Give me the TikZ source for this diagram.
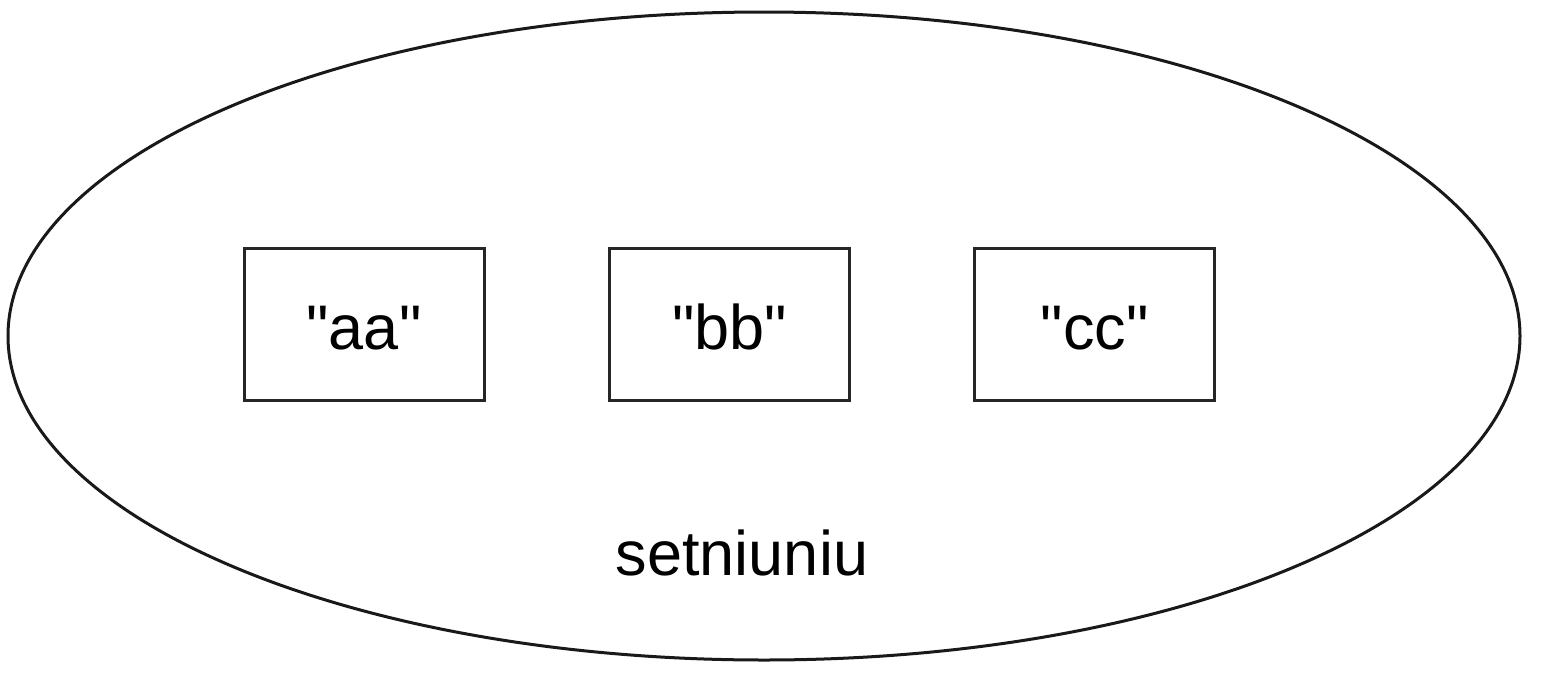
\documentclass[tikz,border=0pt]{standalone}
\usepackage{fontspec}
\setmainfont{Liberation Sans}[Ligatures=TeXOff]
\usetikzlibrary{shapes.geometric}
\begin{document}
\begin{tikzpicture}[x=1pt,y=-1pt,
  itembox/.style={draw=black!85,line width=3pt,minimum width=240pt,minimum height=152pt,inner sep=0pt,text height=50pt,text depth=0pt,font=\fontsize{63}{75}\selectfont},
  setshape/.style={draw=black!90,line width=3pt,ellipse,minimum width=1512pt,minimum height=648pt,inner sep=0pt}]
\useasboundingbox (0,0) rectangle (1548,694);
\node[setshape] (set) at (764,336) {};
\node[itembox] (aa) at (364,324) {"aa"};
\node[itembox] (bb) at (729.5,324) {"bb"};
\node[itembox] (cc) at (1094.5,324) {"cc"};
\node[anchor=base,inner sep=0pt,font=\fontsize{63}{75}\selectfont] (lab) at (742,575) {setniuniu};
\end{tikzpicture}
\end{document}
